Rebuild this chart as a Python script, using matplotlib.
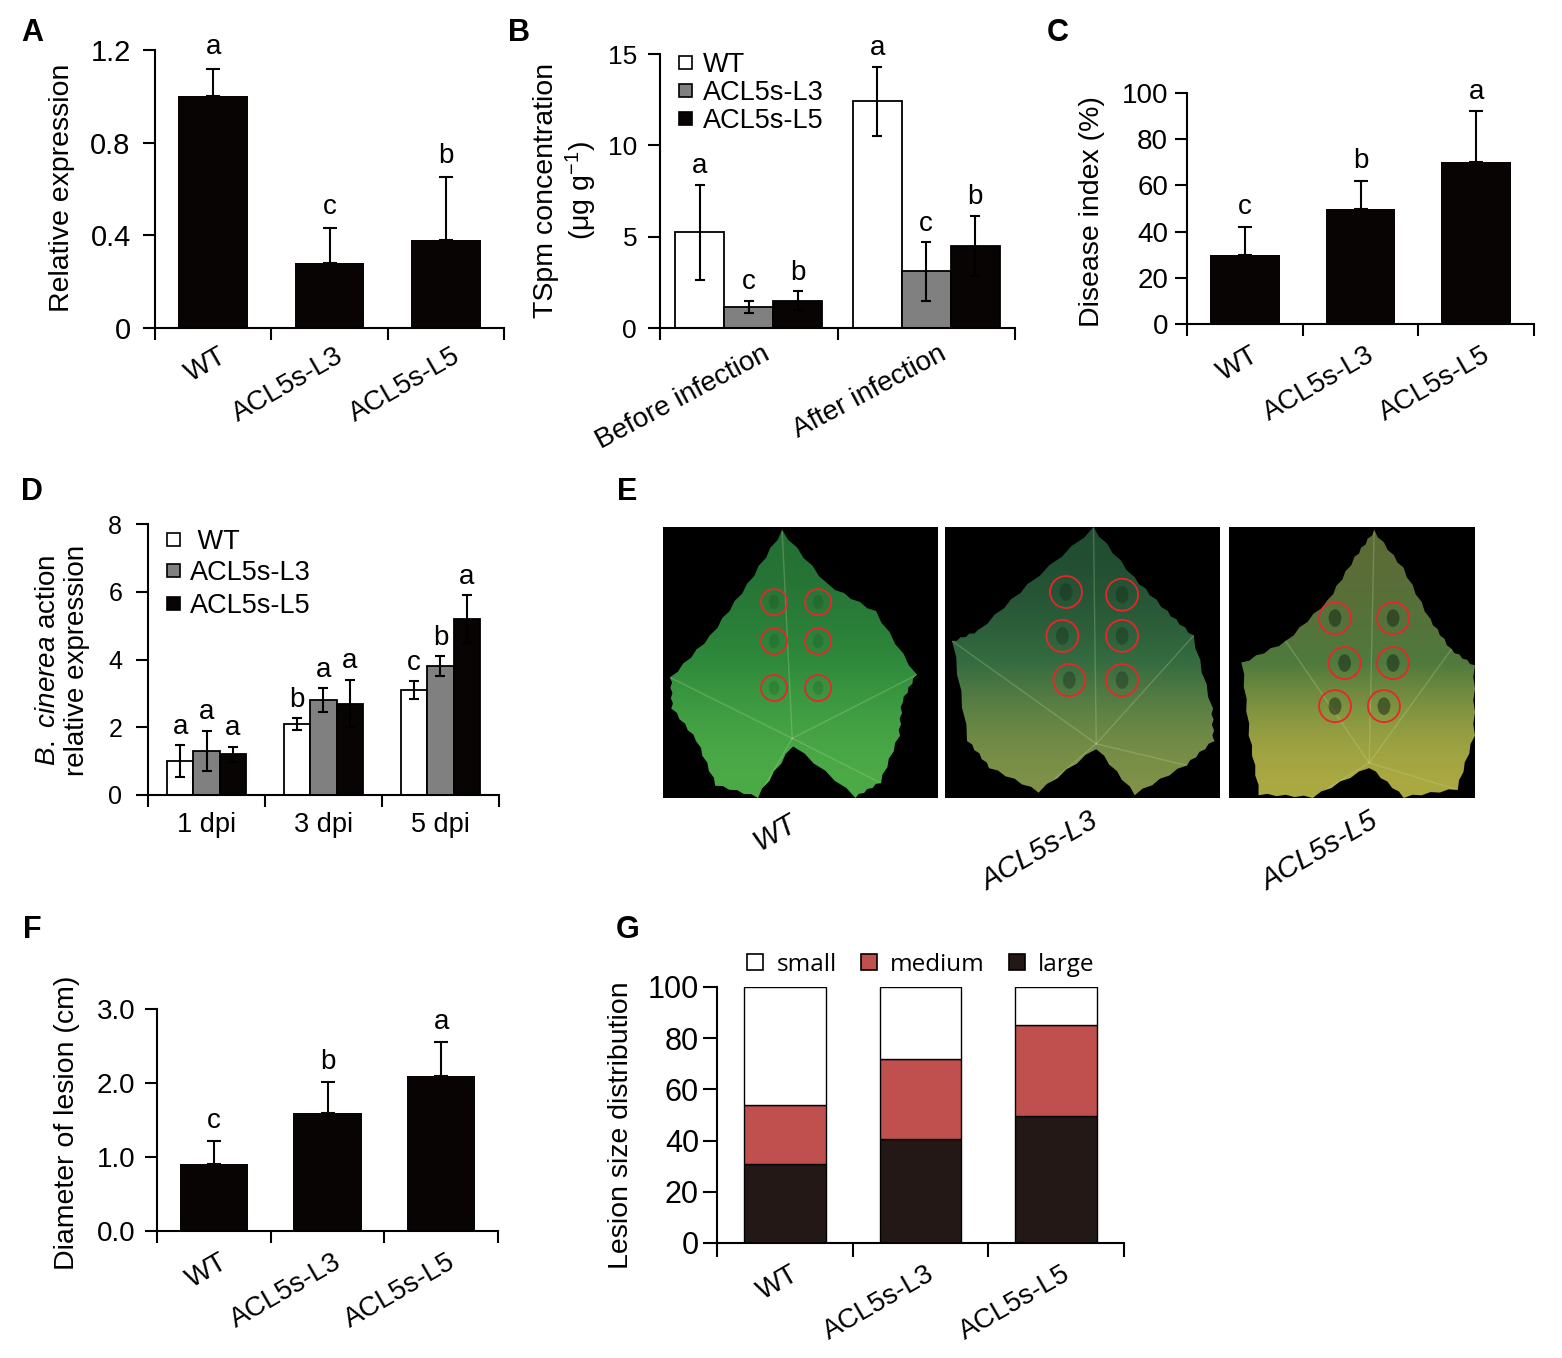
import numpy as np
import matplotlib.pyplot as plt
from matplotlib.patches import Polygon, Ellipse, Rectangle
from matplotlib import font_manager, colors as mcolors

plt.rcParams['font.family'] = ['Liberation Sans', 'DejaVu Sans']
plt.rcParams['mathtext.fontset'] = 'custom'
plt.rcParams['mathtext.rm'] = 'Liberation Sans'
plt.rcParams['mathtext.it'] = 'Liberation Sans:italic'

W, H = 1562, 1358

# ---------------- data ----------------
lines = ['WT', 'ACL5s-L3', 'ACL5s-L5']

# A: relative expression
a_expr = [1.0, 0.28, 0.38]
a_err = [0.12, 0.15, 0.27]
a_sig = ['a', 'c', 'b']

# B: TSpm concentration
b_groups = ['Before infection', 'After infection']
b_wt = [5.25, 12.4]
b_wt_err = [2.6, 1.9]
b_l3 = [1.15, 3.1]
b_l3_err = [0.35, 1.6]
b_l5 = [1.5, 4.5]
b_l5_err = [0.5, 1.65]
b_sig = [['a', 'a'], ['c', 'c'], ['b', 'b']]

# C: disease index
c_index = [30, 50, 70]
c_err = [12, 12, 22]
c_sig = ['c', 'b', 'a']

# D: B. cinerea actin expression
d_days = ['1 dpi', '3 dpi', '5 dpi']
d_wt = [1.0, 2.1, 3.1]
d_wt_err = [0.47, 0.17, 0.26]
d_l3 = [1.3, 2.8, 3.8]
d_l3_err = [0.59, 0.35, 0.30]
d_l5 = [1.2, 2.7, 5.2]
d_l5_err = [0.22, 0.70, 0.70]
d_sig = [['a', 'b', 'c'], ['a', 'a', 'b'], ['a', 'a', 'a']]

# F: lesion diameter
f_diam = [0.9, 1.6, 2.1]
f_err = [0.32, 0.42, 0.45]
f_sig = ['c', 'b', 'a']

# G: lesion size distribution
g_large = [31, 40.5, 49.5]
g_medium = [23, 31.5, 35.8]
g_small = [46, 28, 14.7]

BLACK = '#080404'
GREY = '#808080'

fig = plt.figure(figsize=(W / 100, H / 100), dpi=100)


def px_axes(x0, x1, ytop, ybot):
    return fig.add_axes([x0 / W, 1 - ybot / H, (x1 - x0) / W, (ybot - ytop) / H])


def ftext(x, y, s, **kw):
    return fig.text(x / W, 1 - y / H, s, **kw)


def base_style(ax, n, yticks, ylabels, size, pad, tick_len=8.5):
    ax.spines['top'].set_visible(False)
    ax.spines['right'].set_visible(False)
    ax.spines['left'].set_linewidth(1.5)
    ax.spines['bottom'].set_linewidth(1.5)
    ax.set_xlim(0, n)
    ax.set_xticks(range(n + 1))
    ax.set_xticklabels([])
    ax.set_ylim(yticks[0], yticks[-1])
    ax.set_yticks(yticks, ylabels)
    ax.tick_params(direction='out', length=tick_len, width=1.5, labelsize=size)
    ax.tick_params(axis='y', pad=pad)


def slanted(ax, centers, labels, dx, dy, size, rot=30):
    for c, lab in zip(centers, labels):
        ax.annotate(lab, xy=(c, 0), xycoords=('data', 'axes fraction'),
                    xytext=(dx, dy), textcoords='offset points', rotation=rot,
                    ha='right', va='top', rotation_mode='anchor', fontsize=size)


def letters(ax, xs, tops, sig, size=20, off=4):
    for x, t, s in zip(xs, tops, sig):
        ax.annotate(s, xy=(x, t), xytext=(0, off), textcoords='offset points',
                    ha='center', va='bottom', fontsize=size)


def legend_px(xs, ys, labels, cols, size, sq, txs, family=None):
    for x, y, lab, col, tx in zip(xs, ys, labels, cols, txs):
        fig.add_artist(Rectangle(((x - sq / 2) / W, 1 - (y + sq / 2) / H), sq / W, sq / H,
                                 facecolor=col, edgecolor='black', lw=1.2,
                                 transform=fig.transFigure))
        kw = {'family': family} if family else {}
        ftext(tx, y, lab, ha='left', va='center_baseline', fontsize=size, **kw)


def serrate(outline, k=6, amp=0.007):
    # small zigzag teeth along the leaf edge
    pts = []
    n = len(outline)
    for i in range(n):
        p = np.array(outline[i])
        q = np.array(outline[(i + 1) % n])
        d = q - p
        nrm = np.array([d[1], -d[0]])
        ln = np.hypot(*nrm)
        nrm = nrm / ln if ln > 0 else nrm
        for j in range(k):
            s = j / k
            pts.append(p + d * s + nrm * (amp if j % 2 else 0))
    return np.array(pts)


# ---------------- panel letters ----------------
for lab, x, y in [('A', 32, 33), ('B', 519, 33), ('C', 1058, 33), ('D', 32, 492),
                  ('E', 627, 492), ('F', 32, 930), ('G', 628, 930)]:
    ftext(x, y, lab, ha='center', va='center', fontsize=22, fontweight='bold')

centers3 = np.arange(3) + 0.5

# ---------------- A ----------------
ax = px_axes(155, 504, 50, 328)
ax.bar(centers3, a_expr, 0.6, color=BLACK, zorder=2)
ax.errorbar(centers3, a_expr, yerr=[[0] * 3, a_err], fmt='none', ecolor=BLACK,
            elinewidth=1.5, capsize=5, capthick=1.5, zorder=1)
base_style(ax, 3, [0, 0.4, 0.8, 1.2], ['0', '0.4', '0.8', '1.2'], 21, 9)
letters(ax, centers3, np.add(a_expr, a_err), a_sig, off=6)
slanted(ax, centers3, lines, 4, -11, 20)
ftext(62, 188, 'Relative expression', rotation=90, ha='center', va='center', fontsize=20.5)

# ---------------- B ----------------
ax = px_axes(660, 1015, 54, 328)
gc = np.arange(2) + 0.5
bw = 0.276
series_b = [(b_wt, b_wt_err, 'white'), (b_l3, b_l3_err, GREY), (b_l5, b_l5_err, BLACK)]
for i, (vals, errs, col) in enumerate(series_b):
    xs = gc + (i - 1) * bw
    ax.bar(xs, vals, bw, color=col, edgecolor='black', linewidth=1.3, zorder=2)
    ax.errorbar(xs, vals, yerr=errs, fmt='none', ecolor='black', elinewidth=1.5,
                capsize=3.5, capthick=1.5, zorder=3)
    letters(ax, xs, np.add(vals, errs), b_sig[i])
base_style(ax, 2, [0, 5, 10, 15], ['0', '5', '10', '15'], 19, 8)
slanted(ax, gc, b_groups, 9, -9, 20, rot=28)
ftext(566, 190, 'TSpm concentration\n(μg g$^{-1}$)', rotation=90, ha='center',
      va='center', fontsize=20.5, linespacing=1.15)
legend_px([685] * 3, [62, 90, 118], lines, ['white', GREY, BLACK], 19.5, 13, [703] * 3)

# ---------------- C ----------------
ax = px_axes(1187, 1534, 93, 324)
ax.bar(centers3, c_index, 0.6, color=BLACK, zorder=2)
ax.errorbar(centers3, c_index, yerr=[[0] * 3, c_err], fmt='none', ecolor=BLACK,
            elinewidth=1.5, capsize=5, capthick=1.5, zorder=1)
base_style(ax, 3, [0, 20, 40, 60, 80, 100], ['0', '20', '40', '60', '80', '100'], 20, 5)
letters(ax, centers3, np.add(c_index, c_err), c_sig, off=5)
slanted(ax, centers3, lines, 4, -13, 20)
ftext(1092, 212, 'Disease index (%)', rotation=90, ha='center', va='center', fontsize=20.5)

# ---------------- D ----------------
ax = px_axes(148, 499, 524, 795)
dw = 0.225
series_d = [(d_wt, d_wt_err, 'white'), (d_l3, d_l3_err, GREY), (d_l5, d_l5_err, BLACK)]
for i, (vals, errs, col) in enumerate(series_d):
    xs = centers3 + (i - 1) * dw
    ax.bar(xs, vals, dw, color=col, edgecolor='black', linewidth=1.3, zorder=2)
    ax.errorbar(xs, vals, yerr=errs, fmt='none', ecolor='black', elinewidth=1.5,
                capsize=3.5, capthick=1.5, zorder=3)
    letters(ax, xs, np.add(vals, errs), d_sig[i])
base_style(ax, 3, [0, 2, 4, 6, 8], ['0', '2', '4', '6', '8'], 18, 10)
for c, lab in zip(centers3, d_days):
    ax.annotate(lab, xy=(c, 0), xycoords=('data', 'axes fraction'), xytext=(0, -12),
                textcoords='offset points', ha='center', va='top', fontsize=19.5)
ftext(63, 660, '$\\it{B.\\ cinerea}$ action\nrelative expression', rotation=90,
      ha='center', va='center', fontsize=20, linespacing=1.15)
legend_px([173] * 3, [539, 570, 603], [' WT', 'ACL5s-L3', 'ACL5s-L5'],
          ['white', GREY, BLACK], 19.5, 13, [190] * 3)

# ---------------- E (leaf photos, drawn) ----------------
leaves = [
    dict(frame=(663, 938), outline=[(0.433, 0.99), (0.6, 0.79), (0.775, 0.69), (0.924, 0.455),
                                    (0.873, 0.355), (0.862, 0.23), (0.793, 0.055), (0.70, 0.0),
                                    (0.473, 0.19), (0.345, 0.0), (0.19, 0.045), (0.12, 0.21),
                                    (0.03, 0.33), (0.025, 0.445), (0.17, 0.6), (0.305, 0.79)],
         top='#246e34', mid='#2f8a3c', bottom='#4fae48', petiole=(0.47, 0.22),
         circles=[(0.404, 0.723), (0.564, 0.723), (0.404, 0.579), (0.564, 0.579),
                  (0.404, 0.406), (0.564, 0.406)], size=(0.095, 0.096), spot=0.15),
    dict(frame=(945, 1220), outline=[(0.54, 1.0), (0.69, 0.815), (0.81, 0.69), (0.905, 0.60),
                                     (0.975, 0.33), (0.98, 0.21), (0.88, 0.12), (0.69, 0.01),
                                     (0.55, 0.18), (0.34, 0.02), (0.16, 0.11), (0.08, 0.21),
                                     (0.025, 0.58), (0.12, 0.62), (0.30, 0.79)],
         top='#1f4a30', mid='#356c40', bottom='#859548', petiole=(0.55, 0.2),
         circles=[(0.44, 0.76), (0.644, 0.75), (0.427, 0.598), (0.644, 0.598),
                  (0.452, 0.435), (0.644, 0.435)], size=(0.116, 0.118), spot=0.35),
    dict(frame=(1229, 1475), outline=[(0.59, 0.99), (0.71, 0.85), (0.82, 0.66), (0.905, 0.55),
                                      (1.0, 0.49), (1.0, 0.23), (0.93, 0.03), (0.71, 0.0),
                                      (0.57, 0.11), (0.34, 0.0), (0.12, 0.01), (0.08, 0.23),
                                      (0.05, 0.5), (0.23, 0.58), (0.40, 0.73), (0.51, 0.89)],
         top='#5d6a36', mid='#4f7a3e', bottom='#b3ad42', petiole=(0.57, 0.13),
         circles=[(0.431, 0.664), (0.667, 0.664), (0.47, 0.498), (0.667, 0.498),
                  (0.431, 0.339), (0.63, 0.339)], size=(0.13, 0.118), spot=0.5),
]
for lf in leaves:
    x0, x1 = lf['frame']
    ax = px_axes(x0, x1, 527, 798)
    ax.set_xlim(0, 1)
    ax.set_ylim(0, 1)
    ax.axis('off')
    ax.add_patch(Rectangle((0, 0), 1, 1, facecolor='black', edgecolor='none', zorder=0))
    poly = Polygon(serrate(lf['outline']), closed=True, facecolor='none', edgecolor='none')
    ax.add_patch(poly)
    cmap = mcolors.LinearSegmentedColormap.from_list(
        'leaf', [lf['bottom'], lf['mid'], lf['top']])
    im = ax.imshow([[0, 0], [1, 1]], cmap=cmap, extent=[0, 1, 0, 1], origin='lower',
                   aspect='auto', interpolation='bicubic', zorder=1)
    im.set_clip_path(poly)
    px, py = lf['petiole']
    ol = lf['outline']
    for vx, vy in [ol[0], ol[3], ol[-3], ol[6], ol[9]]:
        vl, = ax.plot([px, vx], [py, vy], color='#c8e0a0', lw=1.0, alpha=0.25, zorder=2)
        vl.set_clip_path(poly)
    for cx, cy in lf['circles']:
        ax.add_patch(Ellipse((cx, cy), lf['size'][0] * 0.4, lf['size'][1] * 0.55,
                             facecolor='#142414', alpha=lf['spot'], edgecolor='none', zorder=3))
        ax.add_patch(Ellipse((cx, cy), lf['size'][0], lf['size'][1], fill=False,
                             edgecolor='#e8262a', lw=1.3, zorder=4))

names = {f.name for f in font_manager.fontManager.ttflist}
efam = 'Liberation Sans Narrow' if 'Liberation Sans Narrow' in names else 'Liberation Sans'
for lab, x, y in [('WT', 775, 833), ('ACL5s-L3', 1040, 852), ('ACL5s-L5', 1320, 852)]:
    ftext(x, y, lab, rotation=30, ha='center', va='center', rotation_mode='anchor',
          fontsize=21, style='italic', family=efam)

# ---------------- F ----------------
ax = px_axes(157, 498, 1009, 1231)
ax.bar(centers3, f_diam, 0.6, color=BLACK, zorder=2)
ax.errorbar(centers3, f_diam, yerr=[[0] * 3, f_err], fmt='none', ecolor=BLACK,
            elinewidth=1.5, capsize=5, capthick=1.5, zorder=1)
base_style(ax, 3, [0, 1, 2, 3], ['0.0', '1.0', '2.0', '3.0'], 20, 7)
letters(ax, centers3, np.add(f_diam, f_err), f_sig, off=5)
slanted(ax, centers3, lines, 4, -13, 20)
ftext(67, 1123, 'Diameter of lesion (cm)', rotation=90, ha='center', va='center', fontsize=20.5)

# ---------------- G ----------------
ax = px_axes(717, 1124, 987, 1243)
ax.bar(centers3, g_large, 0.6, color='#231815', edgecolor='black', linewidth=1, zorder=2)
ax.bar(centers3, g_medium, 0.6, bottom=g_large, color='#bf504d', edgecolor='black',
       linewidth=1, zorder=2)
ax.bar(centers3, g_small, 0.6, bottom=np.add(g_large, g_medium), color='white',
       edgecolor='black', linewidth=1, zorder=2)
base_style(ax, 3, [0, 20, 40, 60, 80, 100], ['0', '20', '40', '60', '80', '100'], 22, 3,
           tick_len=10)
slanted(ax, centers3, lines, 4, -13, 20)
ftext(621, 1125, 'Lesion size distribution', rotation=90, ha='center', va='center', fontsize=20.5)
legend_px([755, 869, 1017], [962] * 3, ['small', 'medium', 'large'],
          ['white', '#bf504d', '#231815'], 17.5, 16, [777, 890, 1038], family='Open Sans')

fig.savefig('out.png', dpi=100)
